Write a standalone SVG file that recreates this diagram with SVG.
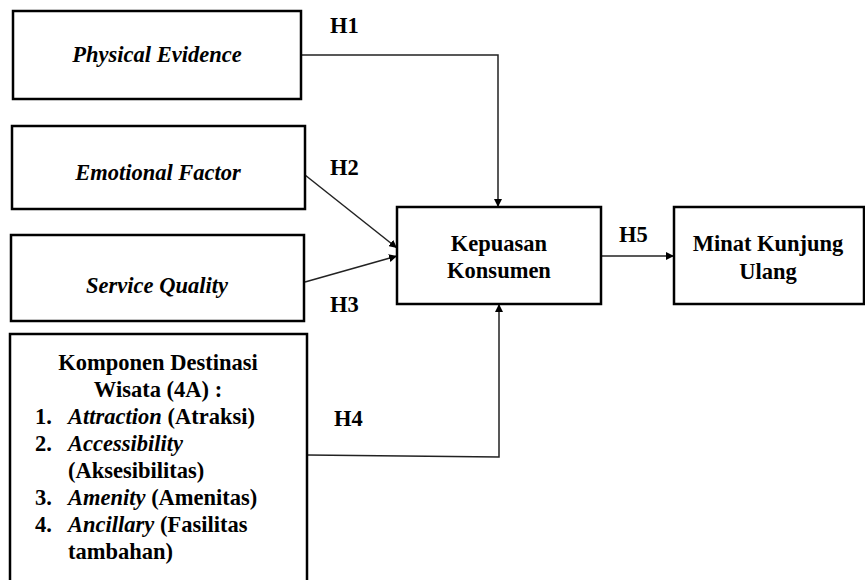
<svg xmlns="http://www.w3.org/2000/svg" width="865" height="580" viewBox="0 0 865 580">
<defs>
<style>
.box{fill:#fff;stroke:#000;stroke-width:2.5}
.t{font-family:"Liberation Serif","Times New Roman",serif;font-weight:bold;font-size:22.5px;fill:#000}
.c{text-anchor:middle}
.i{font-style:italic}
.ln{fill:none;stroke:#222;stroke-width:1.5}
</style>
<marker id="ah" viewBox="0 0 10 10" refX="10" refY="5" markerWidth="8" markerHeight="8" markerUnits="userSpaceOnUse" orient="auto">
<path d="M0,0 L10,5 L0,10 z" fill="#000"/>
</marker>
</defs>
<rect width="865" height="580" fill="#fff"/>
<g id="connectors">
<polyline class="ln" points="301,55 498,55 498,207" marker-end="url(#ah)"/>
<line class="ln" x1="305" y1="175" x2="397" y2="248" marker-end="url(#ah)"/>
<line class="ln" x1="305" y1="282" x2="397" y2="256" marker-end="url(#ah)"/>
<polyline class="ln" points="307,455 499,457 499,304" marker-end="url(#ah)"/>
<line class="ln" x1="601" y1="256" x2="674" y2="256" marker-end="url(#ah)"/>
<text class="t" x="330" y="33">H1</text>
<text class="t" x="330" y="175">H2</text>
<text class="t" x="330" y="312">H3</text>
<text class="t" x="334" y="426">H4</text>
<text class="t" x="619" y="242">H5</text>
</g>
<g id="physical-evidence">
<rect class="box" x="13" y="11" width="288" height="88"/>
<text class="t c i" x="157" y="62">Physical Evidence</text>
</g>
<g id="emotional-factor">
<rect class="box" x="12" y="126" width="293" height="83"/>
<text class="t c i" x="158" y="180">Emotional Factor</text>
</g>
<g id="service-quality">
<rect class="box" x="11" y="235" width="293" height="86"/>
<text class="t c i" x="157" y="293">Service Quality</text>
</g>
<g id="komponen-destinasi">
<rect class="box" x="10" y="334" width="297" height="260"/>
<text class="t c" x="158" y="370">Komponen Destinasi</text>
<text class="t c" x="158" y="397">Wisata (4A) :</text>
<text class="t" x="35" y="424">1.</text>
<text class="t" x="68" y="424"><tspan class="i">Attraction</tspan> (Atraksi)</text>
<text class="t" x="35" y="451">2.</text>
<text class="t i" x="68" y="451">Accessibility</text>
<text class="t" x="68" y="478">(Aksesibilitas)</text>
<text class="t" x="35" y="505">3.</text>
<text class="t" x="68" y="505"><tspan class="i">Amenity</tspan> (Amenitas)</text>
<text class="t" x="35" y="532">4.</text>
<text class="t" x="68" y="532"><tspan class="i">Ancillary</tspan> (Fasilitas</text>
<text class="t" x="68" y="559">tambahan)</text>
</g>
<g id="kepuasan-konsumen">
<rect class="box" x="397" y="207" width="204" height="97"/>
<text class="t c" x="499" y="251">Kepuasan</text>
<text class="t c" x="499" y="278">Konsumen</text>
</g>
<g id="minat-kunjung-ulang">
<rect class="box" x="674" y="207" width="190" height="97"/>
<text class="t c" x="768" y="251">Minat Kunjung</text>
<text class="t c" x="768" y="279">Ulang</text>
</g>
</svg>
